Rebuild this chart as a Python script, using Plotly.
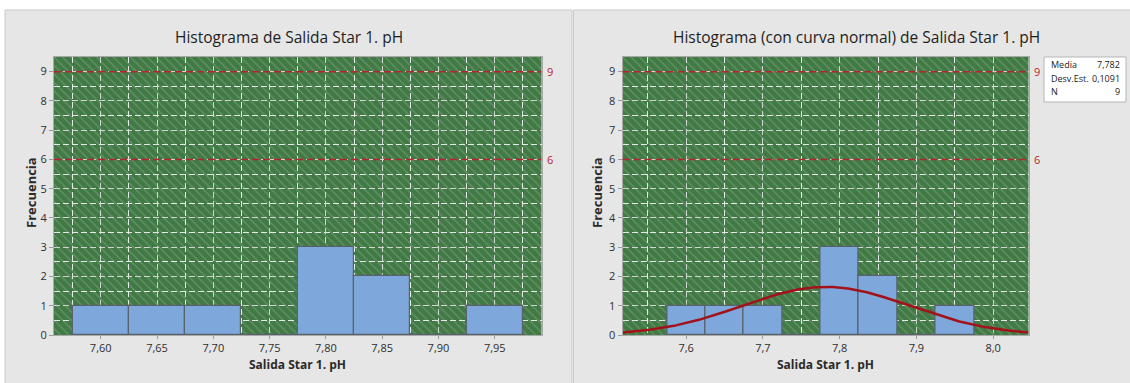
import numpy as np
import plotly.graph_objects as go

W, H = 1130, 383
FIG_H = 390

# --- data -------------------------------------------------------------
bin_centers = [7.60, 7.65, 7.70, 7.75, 7.80, 7.85, 7.90, 7.95]
counts = [1, 1, 1, 0, 3, 2, 0, 1]
bin_width = 0.05
mean_ph = 7.782
std_ph = 0.1091
n_obs = 9
ref_lines = [9, 6]
left_ticks = [7.60, 7.65, 7.70, 7.75, 7.80, 7.85, 7.90, 7.95]
right_ticks = [7.6, 7.7, 7.8, 7.9, 8.0]
y_ticks = list(range(0, 10))

left_title = "Histograma de Salida Star 1. pH"
right_title = "Histograma (con curva normal) de Salida Star 1. pH"
x_title = "Salida Star 1. pH"
y_title = "Frecuencia"

# --- geometry helpers (pixels -> paper) --------------------------------
def px(x):
    return x / W


def py(y):
    return 1 - y / H


FONT = "Open Sans"
Y_RANGE = [0, 9.5]
LEFT_RANGE = [7.5585, 7.9915]
RIGHT_RANGE = [7.517, 8.046]
LEFT_DOM = [px(54), px(541.5)]
RIGHT_DOM = [px(622.5), px(1028.5)]
Y_DOM = [py(335), py(57)]

GREEN = "#417a45"
HATCH = "#8eab8f"
BAR_FILL = "#7ea8db"
BAR_EDGE = "#59616b"
MAJOR_GRID = "rgba(205,212,205,0.95)"
MINOR_GRID = "rgba(245,245,245,0.9)"
RED = "#b8232b"

fig = go.Figure()

# hatched plot backgrounds (underlying subplots x/y and x3/y3)
for xa, ya, rng in (("x", "y", LEFT_RANGE), ("x3", "y3", RIGHT_RANGE)):
    fig.add_trace(go.Bar(
        x=[(rng[0] + rng[1]) / 2], y=[Y_RANGE[1]], width=[rng[1] - rng[0]],
        xaxis=xa, yaxis=ya, hoverinfo="skip",
        marker=dict(color=GREEN, line=dict(width=0),
                    pattern=dict(shape="\\", bgcolor=GREEN, fgcolor=HATCH,
                                 size=6, solidity=0.2)),
    ))

# histogram bars
for xa, ya in (("x2", "y2"), ("x4", "y4")):
    fig.add_trace(go.Bar(
        x=bin_centers, y=counts, width=[bin_width] * len(bin_centers),
        xaxis=xa, yaxis=ya,
        marker=dict(color=BAR_FILL, line=dict(color=BAR_EDGE, width=1.2)),
    ))

# fitted normal curve scaled to counts
xc = np.linspace(RIGHT_RANGE[0], RIGHT_RANGE[1], 300)
pdf = np.exp(-0.5 * ((xc - mean_ph) / std_ph) ** 2) / (std_ph * np.sqrt(2 * np.pi))
fig.add_trace(go.Scatter(
    x=xc, y=n_obs * bin_width * pdf, mode="lines", xaxis="x4", yaxis="y4",
    line=dict(color="#a3121a", width=2.5),
))

hidden = dict(visible=False, fixedrange=True)
tickfont = dict(family=FONT, size=11, color="#2e2e2e")


def main_x(rng, dom, ticks, fmt, minor_dtick, minor_tick0):
    return dict(
        domain=dom, range=rng, tickvals=ticks, tickformat=fmt,
        showgrid=True, gridcolor=MAJOR_GRID, griddash="6px,3px", gridwidth=1,
        minor=dict(dtick=minor_dtick, tick0=minor_tick0, showgrid=True,
                   gridcolor=MINOR_GRID, griddash="6px,3px", gridwidth=1),
        showline=True, mirror=True, linecolor="#a9a9a9", linewidth=1,
        ticks="outside", ticklen=3, tickcolor="#9a9a9a",
        tickfont=tickfont, zeroline=False, fixedrange=True,
    )


def main_y(anchor):
    return dict(
        domain=Y_DOM, range=Y_RANGE, anchor=anchor, tickvals=y_ticks,
        showgrid=True, gridcolor=MAJOR_GRID, griddash="6px,3px", gridwidth=1,
        minor=dict(dtick=0.5, tick0=0, showgrid=True,
                   gridcolor=MINOR_GRID, griddash="6px,3px", gridwidth=1),
        showline=True, mirror=True, linecolor="#a9a9a9", linewidth=1,
        ticks="outside", ticklen=4, tickcolor="#9a9a9a",
        tickfont=tickfont, zeroline=False, fixedrange=True,
    )


fig.update_layout(
    width=W, height=FIG_H, margin=dict(l=0, r=0, t=0, b=0),
    paper_bgcolor="white", plot_bgcolor="rgba(0,0,0,0)",
    separators=",.", showlegend=False, barmode="overlay", bargap=0,
    font=dict(family=FONT, color="#222"),
    xaxis=dict(domain=LEFT_DOM, range=LEFT_RANGE, anchor="y", **hidden),
    yaxis=dict(domain=Y_DOM, range=Y_RANGE, anchor="x", **hidden),
    xaxis2=dict(anchor="y2", **main_x(LEFT_RANGE, LEFT_DOM, left_ticks, ".2f", 0.025, 7.575)),
    yaxis2=main_y("x2"),
    xaxis3=dict(domain=RIGHT_DOM, range=RIGHT_RANGE, anchor="y3", **hidden),
    yaxis3=dict(domain=Y_DOM, range=Y_RANGE, anchor="x3", **hidden),
    xaxis4=dict(anchor="y4", **main_x(RIGHT_RANGE, RIGHT_DOM, right_ticks, ".1f", 0.05, 7.55)),
    yaxis4=main_y("x4"),
)

shapes = [
    # panel backgrounds
    dict(type="rect", xref="paper", yref="paper", x0=px(5), x1=px(572), y0=-0.05, y1=py(10),
         fillcolor="#e6e6e6", line=dict(color="#c9c9c9", width=1), layer="below"),
    dict(type="rect", xref="paper", yref="paper", x0=px(573.5), x1=px(1140), y0=-0.05, y1=py(10),
         fillcolor="#e6e6e6", line=dict(color="#c9c9c9", width=1), layer="below"),
    # statistics box
    dict(type="rect", xref="paper", yref="paper", x0=px(1044), x1=px(1126), y0=py(102), y1=py(57),
         fillcolor="white", line=dict(color="#b5b5b5", width=1)),
]

annotations = []
for xa, ya in (("x2", "y2"), ("x4", "y4")):
    for v in ref_lines:
        shapes.append(dict(type="line", xref=f"{xa} domain", yref=ya, x0=0, x1=1, y0=v, y1=v,
                           line=dict(color=RED, width=1.5, dash="7px,4px"), layer="above"))
        annotations.append(dict(xref=f"{xa} domain", yref=ya, x=1, y=v, text=str(v),
                                showarrow=False, xanchor="left", xshift=3,
                                font=dict(family=FONT, size=11, color=RED)))

# titles
for text, cx in ((left_title, 288.5), (right_title, 856)):
    annotations.append(dict(xref="paper", yref="paper", x=px(cx), y=py(37), text=text,
                            showarrow=False, xanchor="center", yanchor="middle",
                            font=dict(family=FONT, size=15.5, color="#1e1e1e")))

# axis titles
for cx in (297.5, 825.5):
    annotations.append(dict(xref="paper", yref="paper", x=px(cx), y=py(364), text=f"<b>{x_title}</b>",
                            showarrow=False, xanchor="center", yanchor="middle",
                            font=dict(family=FONT, size=12, color="#2a2a2a")))
for cx in (31, 597):
    annotations.append(dict(xref="paper", yref="paper", x=px(cx), y=py(193), text=f"<b>{y_title}</b>",
                            showarrow=False, textangle=-90, xanchor="center", yanchor="middle",
                            font=dict(family=FONT, size=13, color="#2a2a2a")))

# statistics box text
stats = [("Media", f"{mean_ph:.3f}".replace(".", ",")),
         ("Desv.Est.", f"{std_ph:.4f}".replace(".", ",")),
         ("N", str(n_obs))]
for i, (lab, val) in enumerate(stats):
    yy = 65 + i * 13.5
    annotations.append(dict(xref="paper", yref="paper", x=px(1048.5), y=py(yy), text=lab,
                            showarrow=False, xanchor="left", yanchor="middle",
                            font=dict(family=FONT, size=9, color="#222")))
    annotations.append(dict(xref="paper", yref="paper", x=px(1122), y=py(yy), text=val,
                            showarrow=False, xanchor="right", yanchor="middle",
                            font=dict(family=FONT, size=9, color="#222")))

fig.update_layout(shapes=shapes, annotations=annotations)

fig.write_html("out.html")
